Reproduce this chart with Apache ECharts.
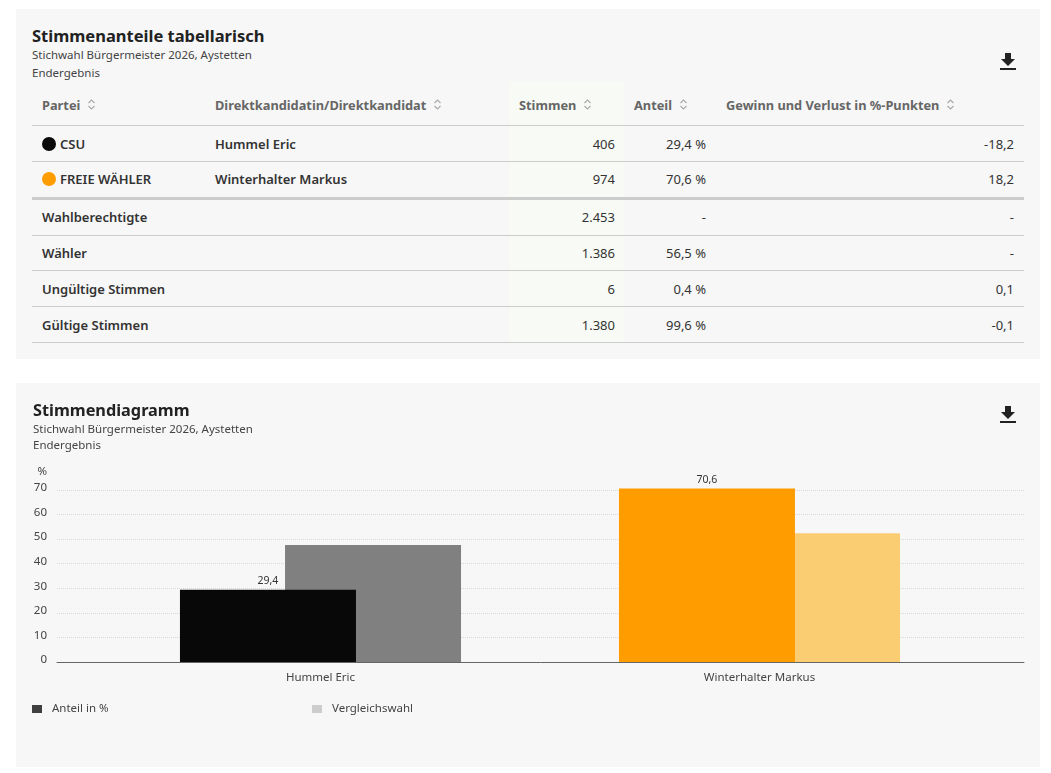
<!DOCTYPE html>
<html lang="de"><head><meta charset="utf-8"><title>Stimmenanteile</title>
<script src="https://cdn.jsdelivr.net/npm/echarts@6/dist/echarts.min.js"></script>
<style>
html,body{margin:0;padding:0;background:#fff;width:1051px;height:773px;overflow:hidden;font-family:"Noto Sans",sans-serif;color:#333}
.panel{position:absolute;left:16px;width:1024px;background:#f7f7f7}
#p1{top:9px;height:350px}
#p2{top:383px;height:384px}
#hl{position:absolute;left:509px;top:82px;width:115px;height:260px;background:#f8fbf5}
h2{position:absolute;left:32px;top:24px;margin:0;font-size:16.5px;line-height:24px;font-weight:700;color:#222}
.sub{position:absolute;left:32px;top:46px;font-size:11.5px;line-height:18px;color:#444}
table{position:absolute;left:32px;top:82px;width:992px;table-layout:fixed;border-collapse:separate;border-spacing:0;font-size:13px;font-weight:600}
th,td{padding:0 10px;white-space:nowrap;border-bottom:1px solid #ccc;overflow:visible;box-sizing:border-box}
th{height:44px;text-align:left;color:#666;font-weight:700;font-size:12.8px;padding-top:3px}
td{height:36px;color:#333}
td.n{text-align:right;font-weight:400}
td.n.s{padding-right:9px}
tr.sep td{border-bottom:3px solid #ccc;height:38px;padding-bottom:1px}
tr.up td{padding-bottom:2px}
tr.short td{height:35px}
.dot{display:inline-block;width:14px;height:14px;border-radius:50%;vertical-align:-2px;margin-right:4px}
.sort{display:inline-block;vertical-align:-1px;margin-left:7px}
.dl{position:absolute;left:1000px}
#chart{position:absolute;left:0;top:383px;width:1051px;height:390px}
</style></head><body>
<div class="panel" id="p1"></div><div class="panel" id="p2"></div><div id="hl"></div>
<h2>Stimmenanteile tabellarisch</h2>
<div class="sub">Stichwahl Bürgermeister 2026, Aystetten<br>Endergebnis</div>
<svg class="dl" style="top:53px" width="16" height="18" viewBox="0 0 16 18"><path d="M5 0h6v6h4l-7 7-7-7h4z M0 15h16v2H0z" fill="#222"/></svg>
<svg class="dl" style="top:406px" width="16" height="18" viewBox="0 0 16 18"><path d="M5 0h6v6h4l-7 7-7-7h4z M0 15h16v2H0z" fill="#222"/></svg>
<table id="t"></table>
<div id="chart"></div>
<script>
const tableHeaders = ["Partei","Direktkandidatin/Direktkandidat","Stimmen","Anteil","Gewinn und Verlust in %-Punkten"];
const tableParties = [["CSU","#0a0a0a","Hummel Eric","406","29,4 %","-18,2"],["FREIE WÄHLER","#ff9c00","Winterhalter Markus","974","70,6 %","18,2"]];
const tableTotals = [["Wahlberechtigte","2.453","-","-"],["Wähler","1.386","56,5 %","-"],["Ungültige Stimmen","6","0,4 %","0,1"],["Gültige Stimmen","1.380","99,6 %","-0,1"]];

const candidates = ["Hummel Eric","Winterhalter Markus"];
const anteil = [29.4,70.6];
const vergleichswahl = [47.6,52.4];
const anteilColors = ["#080808","#ff9c00"];
const vergleichColors = ["#808080","#fbcd73"];
const yTicksMax = 70;

const sortIcon='<svg class="sort" width="9" height="13" viewBox="0 0 9 13"><path d="M1.5 5l3-3 3 3M1.5 8l3 3 3-3" fill="none" stroke="#aaa" stroke-width="1.2"/></svg>';
const widths=[173,304,115,92,308];
let h='<colgroup>'+widths.map(w=>`<col style="width:${w}px">`).join('')+'</colgroup><tr>'+tableHeaders.map(x=>`<th>${x}${sortIcon}</th>`).join('')+'</tr>';
tableParties.forEach((r,i)=>{h+=`<tr${i==1?' class="sep"':''}><td><span class="dot" style="background:${r[1]}"></span>${r[0]}</td><td>${r[2]}</td><td class="n s">${r[3]}</td><td class="n">${r[4]}</td><td class="n">${r[5]}</td></tr>`});
tableTotals.forEach((r,i)=>{const c=i==0?'up':i==1?'short':'';h+=`<tr class="${c}"><td colspan="2">${r[0]}</td><td class="n s">${r[1]}</td><td class="n">${r[2]}</td><td class="n">${r[3]}</td></tr>`});
document.getElementById('t').innerHTML=h;

const font='"Noto Sans",sans-serif';
const chart=echarts.init(document.getElementById('chart'),null,{renderer:'canvas'});
const legendBase={orient:'horizontal',padding:0,itemWidth:10,itemHeight:8,icon:'rect',selectedMode:false,top:320,textStyle:{fontFamily:font,fontSize:11.5,color:'#444',padding:[0,0,0,5]}};
chart.setOption({
  animation:false,
  backgroundColor:'transparent',
  title:{text:'Stimmendiagramm',subtext:'Stichwahl Bürgermeister 2026, Aystetten\nEndergebnis',left:33,top:17,padding:0,itemGap:0,
    textStyle:{fontFamily:font,fontSize:16.3,fontWeight:700,color:'#222',lineHeight:22},
    subtextStyle:{fontFamily:font,fontSize:11.5,color:'#444',lineHeight:16}},
  legend:[
    Object.assign({},legendBase,{left:32,data:[{name:'Anteil in %',itemStyle:{color:'#404040'}}]}),
    Object.assign({},legendBase,{left:312,data:[{name:'Vergleichswahl',itemStyle:{color:'#ccc'}}]})
  ],
  grid:[{left:57,width:967,top:107,height:172},{left:101,width:878,top:107,height:172}],
  xAxis:[
    {gridIndex:0,type:'category',data:[''],axisTick:{show:false},axisLabel:{show:false},axisLine:{lineStyle:{color:'#666',width:1}}},
    {gridIndex:1,type:'category',data:candidates,axisTick:{show:false},axisLine:{show:false},axisLabel:{fontFamily:font,fontSize:11.5,color:'#444',margin:10}}
  ],
  yAxis:[
    {gridIndex:0,type:'value',min:0,max:yTicksMax,interval:10,name:'%',nameLocation:'end',nameGap:12,
     nameTextStyle:{fontFamily:font,fontSize:11.5,color:'#444',align:'right',padding:[0,10,0,0]},
     axisLine:{show:false},axisTick:{show:false},
     axisLabel:{fontFamily:font,fontSize:11.5,color:'#444',margin:10,verticalAlign:'bottom',lineHeight:4},
     splitLine:{lineStyle:{type:'dotted',color:'#d8d8d8',width:1}}},
    {gridIndex:1,type:'value',min:0,max:yTicksMax,interval:10,show:false,splitLine:{show:false}}
  ],
  series:[
    {name:'Anteil in %',type:'bar',xAxisIndex:1,yAxisIndex:1,clip:false,z:3,barWidth:176,barGap:'-40.3%',
     itemStyle:{color:'#404040'},
     data:anteil.map((v,i)=>({value:v,itemStyle:{color:anteilColors[i]}})),
     label:{show:true,position:'top',distance:3,fontFamily:font,fontSize:10.5,color:'#333',formatter:p=>String(p.value).replace('.',',')}},
    {name:'Vergleichswahl',type:'bar',xAxisIndex:1,yAxisIndex:1,clip:false,z:2,barWidth:176,
     itemStyle:{color:'#ccc'},
     data:vergleichswahl.map((v,i)=>({value:v,itemStyle:{color:vergleichColors[i]}}))}
  ]
});
</script></body></html>
